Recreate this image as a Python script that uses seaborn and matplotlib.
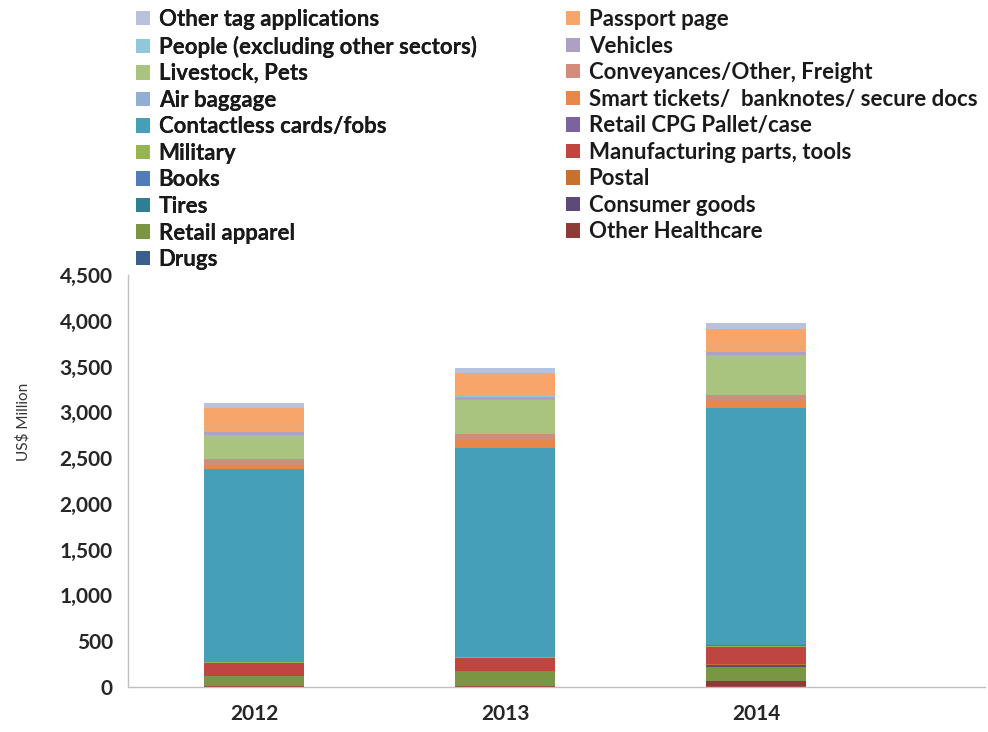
import numpy as np
import matplotlib.pyplot as plt
import pandas as pd
import seaborn as sns
from matplotlib.patches import Patch
from matplotlib.ticker import FuncFormatter

years = ['2012', '2013', '2014']

# series from bottom of the stack to top
series = ['Drugs', 'Other Healthcare', 'Retail apparel', 'Consumer goods', 'Tires',
          'Postal', 'Books', 'Manufacturing parts, tools', 'Military', 'Retail CPG Pallet/case',
          'Contactless cards/fobs', 'Smart tickets/  banknotes/ secure docs', 'Air baggage',
          'Conveyances/Other, Freight', 'Livestock, Pets', 'Vehicles',
          'People (excluding other sectors)', 'Passport page', 'Other tag applications']

drugs = [3, 5, 5]
other_healthcare = [7, 10, 58]
retail_apparel = [110, 145, 150]
consumer_goods = [3, 3, 25]
tires = [3, 3, 5]
postal = [5, 5, 5]
books = [3, 3, 5]
manufacturing = [130, 140, 180]
military = [5, 10, 15]
retail_cpg = [3, 4, 7]
contactless = [2110, 2280, 2595]
smart_tickets = [40, 90, 70]
air_baggage = [5, 5, 8]
conveyances = [65, 55, 60]
livestock = [265, 380, 433]
vehicles = [30, 28, 35]
people = [10, 8, 10]
passport = [250, 255, 245]
other_tag = [58, 55, 60]

values = [drugs, other_healthcare, retail_apparel, consumer_goods, tires, postal, books,
          manufacturing, military, retail_cpg, contactless, smart_tickets, air_baggage,
          conveyances, livestock, vehicles, people, passport, other_tag]

colors = ['#3A5F8C', '#8E3A36', '#7A9645', '#5E4A78', '#2F7F94', '#C8702E', '#4F7DB8',
          '#BE4540', '#94B552', '#7C629E', '#459FB9', '#E8874A', '#93AED3',
          '#D38C7C', '#A8C47E', '#ADA0C4', '#8FC8DA', '#F7A56A', '#B8C2DC']

df = pd.DataFrame(dict(zip(series, values)), index=years)
cum = df.cumsum(axis=1)

sns.set_style('white')
plt.rcParams['font.family'] = ['Lato', 'DejaVu Sans']

fig = plt.figure(figsize=(9.88, 7.32), dpi=100)
ax = fig.add_axes([128 / 988, 45 / 732, 857 / 988, 412 / 732])

# draw cumulative totals from the top series down so each layer shows its own band
for s, c in zip(series[::-1], colors[::-1]):
    sns.barplot(x=years, y=cum[s].values, color=c, saturation=1, width=0.4,
                linewidth=0, ax=ax)

ax.set_xlim(-0.502, 2.912)
ax.set_ylim(0, 4500)
ax.set_yticks(np.arange(0, 4501, 500))
ax.yaxis.set_major_formatter(FuncFormatter(lambda v, p: f'{int(v):,}'))
ax.tick_params(axis='y', length=5, width=1, color='#BFBFBF', labelsize=15, pad=6)
ax.tick_params(axis='x', length=0, labelsize=15, pad=12)
for lab in ax.get_xticklabels() + ax.get_yticklabels():
    lab.set_fontweight('bold')
    lab.set_color('#262626')

sns.despine(ax=ax)
for sp in ['left', 'bottom']:
    ax.spines[sp].set_color('#BFBFBF')
    ax.spines[sp].set_linewidth(1)

ax.set_ylabel('US$ Million', fontsize=11, color='#333333')
ax.yaxis.set_label_coords(-0.114, 0.643)

# legend laid out like the original: two columns, top series first
order = series[::-1]
col = dict(zip(series, colors))
left_items = order[0::2]
right_items = order[1::2]

def make_legend(items, x):
    handles = [Patch(facecolor=col[s], edgecolor='none') for s in items]
    return fig.legend(handles, items, loc='upper left', bbox_to_anchor=(x, 1 - 9 / 732),
                      frameon=False, handlelength=0.62, handleheight=0.62,
                      handletextpad=0.4, labelspacing=0.25, borderpad=0, borderaxespad=0,
                      prop={'weight': 'bold', 'size': 16})

leg1 = make_legend(left_items, 136 / 988)
fig.add_artist(leg1)
leg2 = make_legend(right_items, 566 / 988)
for leg in (leg1, leg2):
    for t in leg.get_texts():
        t.set_color('#1a1a1a')

fig.savefig('out.png', dpi=100, facecolor='white')
